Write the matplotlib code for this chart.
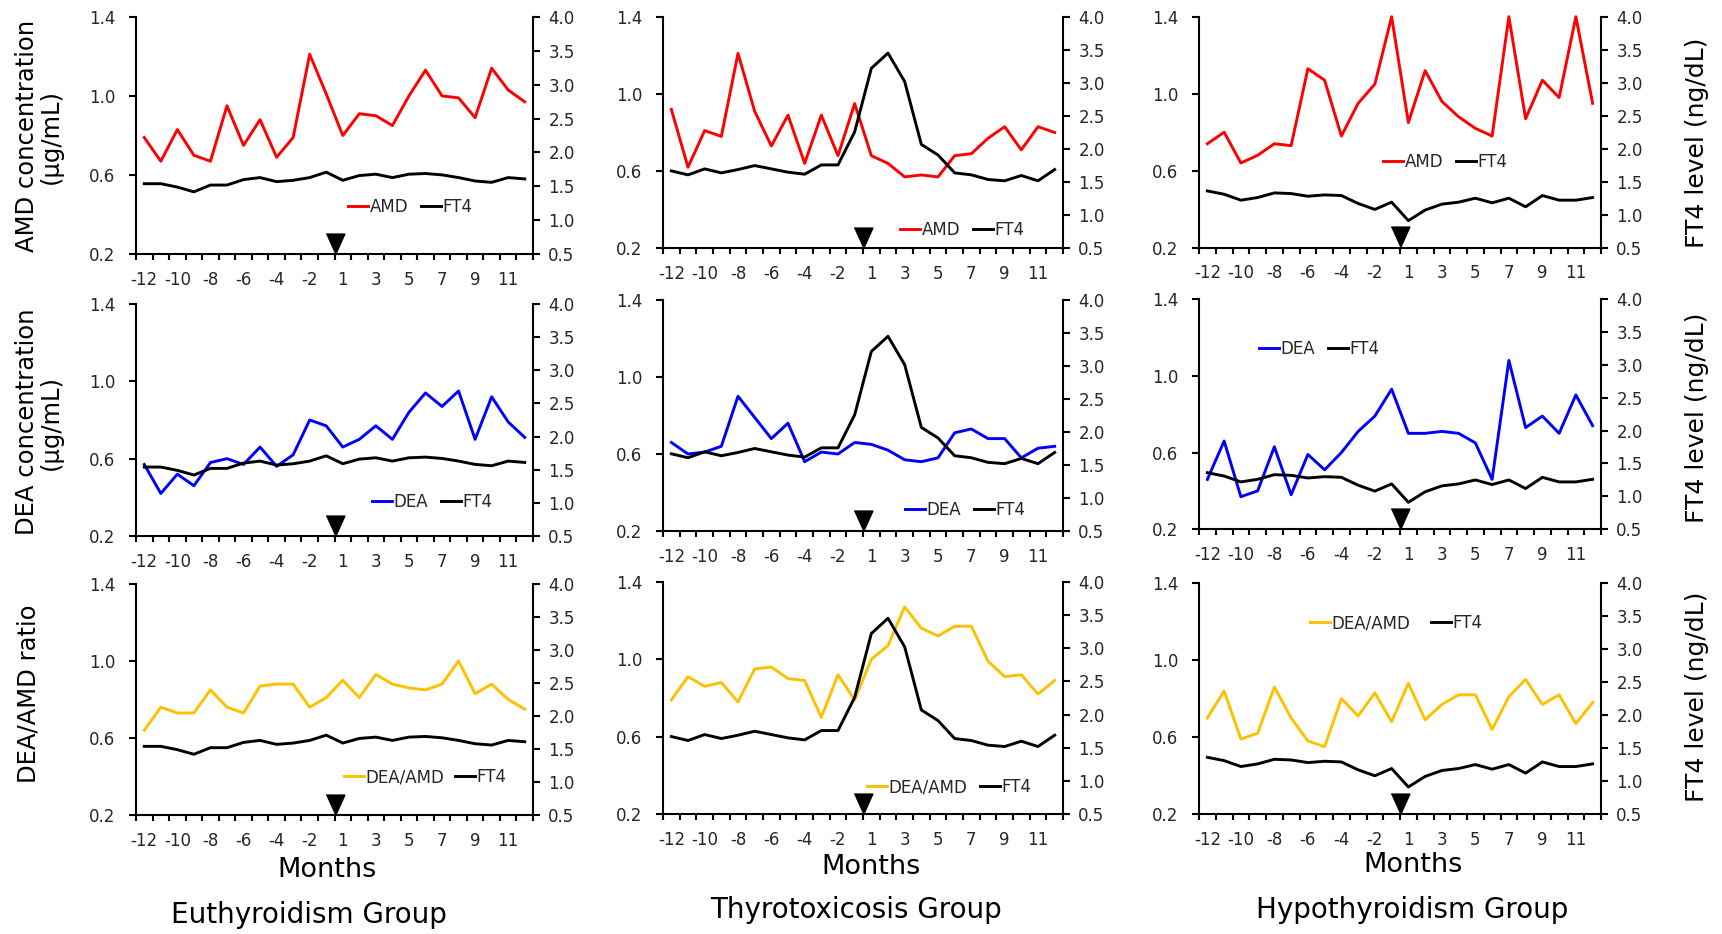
import numpy as np
import matplotlib
matplotlib.use('Agg')
import matplotlib.pyplot as plt
from matplotlib.transforms import offset_copy

plt.rcParams['font.family'] = ['DejaVu Sans']

months = [-12, -11, -10, -9, -8, -7, -6, -5, -4, -3, -2, -1,
          1, 2, 3, 4, 5, 6, 7, 8, 9, 10, 11, 12]

# FT4 (ng/dL), same curve in every row of a group
ft4_eu = [1.54, 1.54, 1.49, 1.42, 1.52, 1.52, 1.60, 1.63, 1.57, 1.59, 1.63, 1.71,
          1.59, 1.66, 1.68, 1.63, 1.68, 1.69, 1.67, 1.63, 1.58, 1.56, 1.63, 1.61]
ft4_thyro = [1.67, 1.61, 1.70, 1.64, 1.69, 1.75, 1.70, 1.65, 1.62, 1.76, 1.76, 2.26,
             3.22, 3.45, 3.02, 2.07, 1.91, 1.64, 1.61, 1.54, 1.52, 1.60, 1.52, 1.69]
ft4_hypo = [1.36, 1.31, 1.22, 1.26, 1.33, 1.32, 1.28, 1.30, 1.29, 1.17, 1.08, 1.19,
            0.91, 1.07, 1.16, 1.19, 1.25, 1.18, 1.25, 1.12, 1.29, 1.22, 1.22, 1.26]

# AMD concentration (ug/mL)
amd_eu = [0.79, 0.67, 0.83, 0.70, 0.67, 0.95, 0.75, 0.88, 0.69, 0.79, 1.21, 1.01,
          0.80, 0.91, 0.90, 0.85, 1.00, 1.13, 1.00, 0.99, 0.89, 1.14, 1.03, 0.97]
amd_thyro = [0.92, 0.62, 0.81, 0.78, 1.21, 0.91, 0.73, 0.89, 0.64, 0.89, 0.68, 0.95,
             0.68, 0.64, 0.57, 0.58, 0.57, 0.68, 0.69, 0.77, 0.83, 0.71, 0.83, 0.80]
amd_hypo = [0.74, 0.80, 0.64, 0.68, 0.74, 0.73, 1.13, 1.07, 0.78, 0.95, 1.05, 1.40,
            0.85, 1.12, 0.96, 0.88, 0.82, 0.78, 1.40, 0.87, 1.07, 0.98, 1.40, 0.95]

# DEA concentration (ug/mL)
dea_eu = [0.57, 0.42, 0.52, 0.46, 0.58, 0.60, 0.57, 0.66, 0.56, 0.62, 0.80, 0.77,
          0.66, 0.70, 0.77, 0.70, 0.84, 0.94, 0.87, 0.95, 0.70, 0.92, 0.79, 0.71]
dea_thyro = [0.66, 0.60, 0.61, 0.64, 0.90, 0.79, 0.68, 0.76, 0.56, 0.61, 0.60, 0.66,
             0.65, 0.62, 0.57, 0.56, 0.58, 0.71, 0.73, 0.68, 0.68, 0.58, 0.63, 0.64]
dea_hypo = [0.46, 0.66, 0.37, 0.40, 0.63, 0.38, 0.59, 0.51, 0.60, 0.71, 0.79, 0.93,
            0.70, 0.70, 0.71, 0.70, 0.65, 0.46, 1.08, 0.73, 0.79, 0.70, 0.90, 0.74]

# DEA/AMD ratio
ratio_eu = [0.64, 0.76, 0.73, 0.73, 0.85, 0.76, 0.73, 0.87, 0.88, 0.88, 0.76, 0.81,
            0.90, 0.81, 0.93, 0.88, 0.86, 0.85, 0.88, 1.00, 0.83, 0.88, 0.80, 0.75]
ratio_thyro = [0.79, 0.91, 0.86, 0.88, 0.78, 0.95, 0.96, 0.90, 0.89, 0.70, 0.92, 0.79,
               1.00, 1.07, 1.27, 1.16, 1.12, 1.17, 1.17, 0.99, 0.91, 0.92, 0.82, 0.89]
ratio_hypo = [0.70, 0.84, 0.59, 0.62, 0.86, 0.70, 0.58, 0.55, 0.80, 0.71, 0.83, 0.68,
              0.88, 0.69, 0.77, 0.82, 0.82, 0.64, 0.81, 0.90, 0.77, 0.82, 0.67, 0.78]

groups = ['Euthyroidism Group', 'Thyrotoxicosis Group', 'Hypothyroidism Group']
ft4 = [ft4_eu, ft4_thyro, ft4_hypo]
rows = [('AMD', '#FF0000', [amd_eu, amd_thyro, amd_hypo], 'AMD concentration\n(\u03bcg/mL)'),
        ('DEA', '#0000FF', [dea_eu, dea_thyro, dea_hypo], 'DEA concentration\n(\u03bcg/mL)'),
        ('DEA/AMD', '#FFC000', [ratio_eu, ratio_thyro, ratio_hypo], 'DEA/AMD ratio')]

W, H = 1722, 934
fig = plt.figure(figsize=(W / 100, H / 100), dpi=100)

def px(x, y):
    return x / W, 1 - y / H

# plot boxes in pixels: left, right, top, bottom
cols_x = [(136, 533), (663, 1063), (1199, 1601)]
rows_y = [[(16.7, 254.3), (16.7, 248.3), (16.7, 247.7)],
          [(304, 536), (300, 531), (299, 529.3)],
          [(584, 815), (581.7, 814.3), (583.3, 814)]]
# legend anchor (left, centre y) and column spacing
legs = [[(348, 207, 0.75), (900, 230, 0.75), (1383, 162, 0.75)],
        [(372, 502, 0.75), (905, 510, 0.75), (1259, 349, 0.75)],
        [(344, 777, 0.6), (867, 787, 0.75), (1310, 623, 1.2)]]

x = np.arange(len(months))
start = months.index(1) - 0.5   # start of treatment, between -1 and 1
tri = [(-0.9, 1), (0.9, 1), (0, -1)]
tick_col = '#262626'

for r, (name, col, series, ylab) in enumerate(rows):
    for c in range(3):
        l, rt = cols_x[c]
        t, b = rows_y[r][c]
        ax = fig.add_axes([l / W, 1 - b / H, (rt - l) / W, (b - t) / H])
        ax2 = ax.twinx()

        l1, = ax.plot(x, series[c], color=col, lw=2.1, clip_on=False)
        l2, = ax2.plot(x, ft4[c], color='black', lw=2.1)

        ax.set_xlim(-0.5, len(months) - 0.5)
        ax.set_ylim(0.2, 1.4)
        ax.set_yticks([0.2, 0.6, 1.0, 1.4])
        ax.set_yticklabels(['%.1f' % v for v in [0.2, 0.6, 1.0, 1.4]])
        ax2.set_ylim(0.5, 4.0)
        rt_ticks = np.arange(0.5, 4.01, 0.5)
        ax2.set_yticks(rt_ticks)
        ax2.set_yticklabels(['%.1f' % v for v in rt_ticks])

        ax.set_xticks(x[::2])
        ax.set_xticklabels([str(m) for m in months[::2]])
        ax.set_xticks(np.arange(-0.5, len(months), 1), minor=True)
        ax.tick_params(axis='x', which='major', length=0, pad=12, labelsize=12, labelcolor=tick_col)
        ax.tick_params(axis='x', which='minor', length=4, width=1.5, direction='out')
        ax.tick_params(axis='y', length=5, width=1.5, pad=10, labelsize=12, labelcolor=tick_col)
        ax2.tick_params(axis='y', length=5, width=1.5, pad=6, labelsize=12, labelcolor=tick_col)

        for s in ['top', 'right']:
            ax.spines[s].set_visible(False)
        for s in ['top', 'left', 'bottom']:
            ax2.spines[s].set_visible(False)
        for sp in [ax.spines['left'], ax.spines['bottom'], ax2.spines['right']]:
            sp.set_linewidth(1.5)

        # treatment start marker, tip on the x axis
        ax.plot(start, 0.2, marker=tri, ms=15, color='black', clip_on=False, zorder=5,
                transform=offset_copy(ax.transData, fig=fig, y=7.5, units='points'))

        lx, ly, cs = legs[r][c]
        fig.legend([l1, l2], [name, 'FT4'], loc='center left', bbox_to_anchor=px(lx, ly),
                   ncol=2, frameon=False, handlelength=1.2, handletextpad=0.1,
                   columnspacing=cs, borderpad=0, borderaxespad=0, fontsize=12,
                   labelcolor=tick_col)

# axis titles
ylab_pos = [(39, 136), (39, 422), (28, 694)]
for r, (name, col, series, ylab) in enumerate(rows):
    fig.text(*px(*ylab_pos[r]), ylab, rotation=90, ha='center', va='center',
             fontsize=17.5, linespacing=1.0, multialignment='center')
for yy in [143, 418, 697]:
    fig.text(*px(1697, yy), 'FT4 level (ng/dL)', rotation=90, ha='center', va='center', fontsize=18)

months_pos = [(327, 870), (871, 867), (1413, 865)]
group_pos = [(309, 915), (856, 910), (1412, 910)]
for c in range(3):
    fig.text(*px(*months_pos[c]), 'Months', ha='center', va='center', fontsize=19.5)
    fig.text(*px(*group_pos[c]), groups[c], ha='center', va='center', fontsize=20)

fig.savefig('out.png', dpi=100)
